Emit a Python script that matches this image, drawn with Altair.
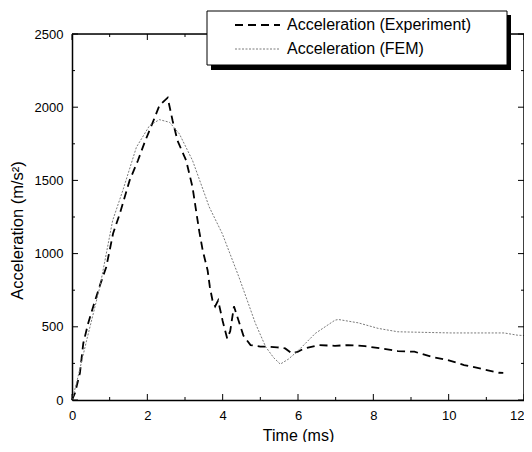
import altair as alt
import pandas as pd

# ---- data ----
exp_t = [0.0, 0.08, 0.21, 0.30, 0.43, 0.56, 0.75, 0.91, 1.09, 1.27, 1.53, 1.75, 1.93, 2.15,
         2.32, 2.54, 2.67, 2.80, 3.03, 3.20, 3.29, 3.38, 3.47, 3.60, 3.66, 3.73, 3.80, 3.88,
         4.00, 4.12, 4.20, 4.30, 4.40, 4.55, 4.74, 5.00, 5.22, 5.45, 5.66, 5.84, 6.00, 6.15,
         6.54, 6.98, 7.33, 7.78, 8.21, 8.65, 9.09, 9.53, 9.97, 10.41, 10.90, 11.34, 11.45]
exp_a = [0, 48, 184, 388, 524, 636, 790, 909, 1137, 1273, 1500, 1636, 1761, 1900,
         2011, 2065, 1909, 1772, 1636, 1454, 1300, 1150, 1022, 886, 772, 680, 640, 680,
         540, 420, 470, 640, 560, 440, 375, 365, 364, 360, 352, 318, 330, 350,
         375, 370, 375, 368, 352, 334, 330, 296, 273, 239, 211, 186, 185]

fem_t = [0.0, 0.12, 0.39, 0.74, 1.08, 1.35, 1.71, 2.06, 2.32, 2.59, 2.85, 3.20, 3.55, 3.64,
         3.99, 4.43, 4.87, 5.14, 5.35, 5.53, 5.75, 6.02, 6.46, 6.98, 7.07, 7.60, 8.13, 8.65,
         9.18, 10.06, 10.94, 11.47, 11.82, 12.0]
fem_a = [0, 116, 409, 772, 1227, 1432, 1727, 1875, 1915, 1897, 1818, 1636, 1386, 1320,
         1136, 841, 523, 364, 290, 245, 280, 341, 455, 545, 550, 527, 489, 466,
         463, 458, 458, 458, 443, 440]

series_names = ["Acceleration (Experiment)", "Acceleration (FEM)"]
x_major = [0, 2, 4, 6, 8, 10, 12]
x_minor = [1, 3, 5, 7, 9, 11]
y_major = [0, 500, 1000, 1500, 2000, 2500]
y_minor = [250, 750, 1250, 1750, 2250]
x_title = "Time (ms)"
y_title = "Acceleration (m/s²)"

W, H = 452, 366
FONT = "Liberation Sans"

df = pd.concat([
    pd.DataFrame({"t": exp_t, "a": exp_a, "series": series_names[0]}),
    pd.DataFrame({"t": fem_t, "a": fem_a, "series": series_names[1]}),
])

xs = alt.Scale(domain=[0, 12], nice=False, zero=False)
ys = alt.Scale(domain=[0, 2500], nice=False)

x_axis = alt.Axis(values=x_major, format="d", ticks=False, grid=False, labelPadding=9,
                  labelFlush=False,
                  labelAlign={"condition": {"test": "datum.value >= 12", "value": "right"},
                              "value": "center"},
                  titlePadding=5, labelFontSize=13, titleFontSize=16,
                  titleFontWeight="normal", labelFont=FONT, titleFont=FONT,
                  domainColor="black", domainWidth=1.5, labelColor="black",
                  titleColor="black")
y_axis = alt.Axis(values=y_major, format="d", ticks=False, grid=False, labelPadding=9,
                  titlePadding=9, labelFontSize=13, titleFontSize=16.5,
                  titleFontWeight="normal", labelFont=FONT, titleFont=FONT,
                  domainColor="black", domainWidth=1.5, labelColor="black",
                  titleColor="black", titleY=196)

colors = ["#000000", "#7a7a7a"]
dashes = [[8, 5], [2, 1.5]]
widths = [1.8, 1.0]

lines = alt.Chart(df).mark_line().encode(
    x=alt.X("t:Q", scale=xs, title=x_title, axis=x_axis),
    y=alt.Y("a:Q", scale=ys, title=y_title, axis=y_axis),
    color=alt.Color("series:N", scale=alt.Scale(domain=series_names, range=colors), legend=None),
    strokeDash=alt.StrokeDash("series:N", scale=alt.Scale(domain=series_names, range=dashes), legend=None),
    size=alt.Size("series:N", scale=alt.Scale(domain=series_names, range=widths), legend=None),
)


def xticks(vals, length):
    d = pd.DataFrame({"v": vals})
    bottom = alt.Chart(d).mark_rule(color="black", strokeWidth=1).encode(
        x=alt.X("v:Q", scale=xs, title=x_title, axis=x_axis),
        y=alt.value(H), y2=alt.value(H - length))
    top = alt.Chart(d).mark_rule(color="black", strokeWidth=1).encode(
        x=alt.X("v:Q", scale=xs, title=x_title, axis=x_axis),
        y=alt.value(0), y2=alt.value(length))
    return [bottom, top]


def yticks(vals, length):
    d = pd.DataFrame({"v": vals})
    left = alt.Chart(d).mark_rule(color="black", strokeWidth=1).encode(
        y=alt.Y("v:Q", scale=ys, title=y_title, axis=y_axis),
        x=alt.value(0), x2=alt.value(length))
    right = alt.Chart(d).mark_rule(color="black", strokeWidth=1).encode(
        y=alt.Y("v:Q", scale=ys, title=y_title, axis=y_axis),
        x=alt.value(W), x2=alt.value(W - length))
    return [left, right]


ticks = xticks(x_major, 6) + xticks(x_minor, 3) + yticks(y_major, 6) + yticks(y_minor, 3)

frame_top = alt.Chart().mark_rule(color="black", strokeWidth=1.5).encode(
    x=alt.value(0), x2=alt.value(W), y=alt.value(0))
frame_right = alt.Chart().mark_rule(color="black", strokeWidth=1.5).encode(
    x=alt.value(W), y=alt.value(0), y2=alt.value(H))

# ---- legend (box with drop shadow) ----
shadow = alt.Chart().mark_rect(color="black").encode(
    x=alt.value(139), x2=alt.value(439), y=alt.value(-19), y2=alt.value(36))
box = alt.Chart().mark_rect(fill="white", stroke="black", strokeWidth=1).encode(
    x=alt.value(135), x2=alt.value(435), y=alt.value(-23), y2=alt.value(31))
sym1 = alt.Chart().mark_rule(color=colors[0], strokeDash=dashes[0], strokeWidth=widths[0]).encode(
    x=alt.value(163), x2=alt.value(208), y=alt.value(-9))
sym2 = alt.Chart().mark_rule(color=colors[1], strokeDash=dashes[1], strokeWidth=widths[1]).encode(
    x=alt.value(163), x2=alt.value(208), y=alt.value(15))
txt1 = alt.Chart().mark_text(align="left", baseline="middle", font=FONT, fontSize=16,
                             color="black").encode(
    x=alt.value(215), y=alt.value(-9), text=alt.value(series_names[0]))
txt2 = alt.Chart().mark_text(align="left", baseline="middle", font=FONT, fontSize=16,
                             color="black").encode(
    x=alt.value(215), y=alt.value(15), text=alt.value(series_names[1]))

chart = alt.layer(
    lines, *ticks, frame_top, frame_right, shadow, box, sym1, sym2, txt1, txt2
).properties(
    width=W, height=H,
    autosize=alt.AutoSizeParams(type="none"),
    padding={"left": 64, "top": 26, "right": 0, "bottom": 42},
).configure_view(stroke=None).configure(background="white")

chart.save("out.html", embed_options={"renderer": "svg", "actions": False})
